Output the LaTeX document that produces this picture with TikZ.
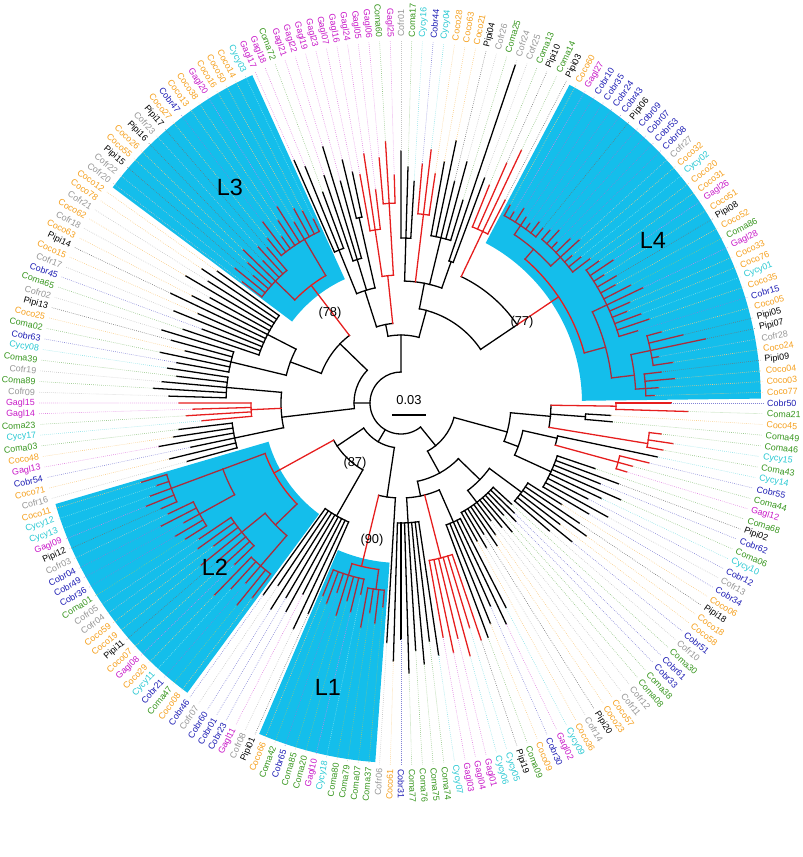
\documentclass[tikz,border=0pt]{standalone}
\usepackage{fontspec}
\setmainfont{Liberation Sans}
\definecolor{co}{RGB}{245,160,30}
\definecolor{ga}{RGB}{200,25,200}
\definecolor{cm}{RGB}{55,150,30}
\definecolor{cy}{RGB}{40,200,210}
\definecolor{cb}{RGB}{30,30,180}
\definecolor{cf}{RGB}{150,150,150}
\definecolor{pp}{RGB}{0,0,0}
\definecolor{brred}{RGB}{230,30,30}
\definecolor{wred}{RGB}{170,45,60}
\definecolor{lin}{RGB}{20,190,235}
\newcommand\lblfont{\fontsize{7.6}{9}\selectfont}
% angle of leaf position p (clockwise from the top)
\newcommand\pang[1]{(90-(#1-1)*1.698113)}
% clade: style, stem position, arc from, arc to, stem start, node radius
\newcommand\cl[6]{%
  \draw[#1] ({\pang{#2}}:#5) -- ({\pang{#2}}:#6);
  \draw[#1] ({\pang{#3}}:#6) arc[start angle={\pang{#3}}, end angle={\pang{#4}}, radius=#6];}
% leaf branch: style, position, start, tip
\newcommand\lf[4]{%
  \draw[#1] ({\pang{#2}}:#3) -- ({\pang{#2}}:#4);
  \pgfmathtruncatemacro\lfk{mod(#2-1,212)+1}%
  \expandafter\xdef\csname tr\lfk\endcsname{#4}}
% clade whose children are leaves a..b
\newcommand\fan[7]{%
  \cl{#1}{#2}{#3}{#4}{#5}{#6}
  \foreach \t [count=\j from #3] in {#7} {\lf{#1}{\j}{#6}{\t}}}
\newcommand\wedgefill[4]{%
  \fill[lin] (#1:#3) arc[start angle=#1, end angle=#2, radius=#3]
    -- (#2:#4) arc[start angle=#2, end angle=#1, radius=#4] -- cycle;}

\begin{document}
\begin{tikzpicture}[scale=0.03,
    bk/.style={line width=1.1pt, black, line cap=rect},
    rb/.style={line width=1.1pt, brred, line cap=rect},
    wb/.style={line width=1.1pt, wred, line cap=rect},
    dotline/.style={line width=0.5pt, dash pattern=on 0.6pt off 1.1pt},
    lbl/.style={font=\lblfont, inner sep=0pt},
    boot/.style={font=\fontsize{11}{13}\selectfont, inner sep=0pt},
    lname/.style={font=\fontsize{20}{24}\selectfont, inner sep=0pt}
]
\useasboundingbox (-401,-454) rectangle (402,403);

% highlighted lineages
\wedgefill{0.7}{62.1}{181}{360}
\wedgefill{114.4}{143.2}{136}{360}
\wedgefill{196.3}{233.6}{138}{360}
\wedgefill{246.8}{265.9}{160}{360}

% root
\draw[bk] ({\pang{84}}:31) arc[start angle={\pang{84}}, end angle={\pang{213}}, radius=31];

% top clade
\cl{bk}{213}{206.5}{222}{31}{68}
\cl{bk}{206.5}{202.5}{209.5}{68}{80}
\cl{bk}{202.5}{200}{205.5}{80}{118}
\fan{bk}{200}{199}{201}{118}{165}{265,255,225}
\fan{bk}{203}{202}{204}{118}{150}{240,268,230}
\fan{bk}{205.5}{205}{206}{118}{190}{250,236}
\cl{rb}{209.5}{208}{211}{80}{128}
\fan{rb}{208}{207}{209}{128}{175}{232,252,215}
\fan{rb}{211}{210}{212}{128}{200}{246,262,228}
\cl{bk}{222}{219.5}{246}{68}{96}
\cl{bk}{219.5}{214}{224.5}{96}{122}
\fan{bk}{214}{213}{215}{122}{165}{252,236,222}
\fan{rb}{217}{216}{218}{122}{190}{240,255,232}
\fan{bk}{221}{219}{223}{122}{170}{245,268,228,250,212}
\fan{bk}{224.5}{224}{225}{122}{150}{357,240}
\cl{bk}{246}{228}{246}{96}{140}
\fan{rb}{228}{226}{229}{140}{190}{235,262,280,228}
% L4
\cl{rb}{246}{237}{257}{140}{190}
\cl{wb}{237}{233}{241}{190}{203}
\fan{wb}{233}{230}{236}{203}{214}{226,222,230,224,221,228,225}
\fan{wb}{241}{237}{244}{203}{216}{228,234,224,236,242,226,232,238}
\cl{wb}{257}{251}{262}{190}{212}
\fan{wb}{251}{245}{256}{212}{228}{244,256,240,250,245,258,268,250,244,256,262,248}
\cl{wb}{262}{259}{264}{212}{235}
\fan{wb}{259}{257}{261}{235}{255}{270,290,311,262,275}
\fan{wb}{264}{262}{265}{235}{245}{262,275,258,254}

% right clade
\cl{bk}{84}{63}{90}{31}{55}
\cl{bk}{63}{57}{66}{55}{110}
\cl{bk}{57}{54.5}{59.5}{110}{150}
\fan{rb}{54.5}{54}{55}{150}{215}{270,287}
\fan{bk}{56.5}{56}{57}{150}{185}{210,212}
\fan{rb}{59.5}{58}{60}{150}{250}{262,275,266}
\cl{bk}{66}{61.5}{68.5}{110}{125}
\cl{bk}{61.5}{61}{63}{125}{160}
\lf{bk}{61}{160}{262}
\fan{rb}{63}{62}{64}{160}{225}{255,240,236}
\fan{bk}{68.5}{65}{72}{125}{165}{205,232,215,240,222,210,236,218}
\cl{bk}{90}{80}{100}{55}{80}
\cl{bk}{80}{75.5}{85}{80}{110}
\fan{bk}{75.5}{73}{78}{110}{150}{190,215,228,200,220,196}
\fan{bk}{85}{79}{90}{110}{125}{150,158,165,152,170,160,148,162,172,155,168,158}
\cl{bk}{100}{93}{105}{80}{95}
\fan{bk}{93}{91}{95}{95}{130}{230,245,222,238,250}
\fan{rb}{98.5}{96}{101}{95}{160}{250,235,262,242,255,238}
\fan{bk}{105}{102}{108}{95}{120}{255,240,262,248,270,236,258}

% bottom clade
\cl{bk}{125}{112}{140}{31}{45}
\cl{bk}{112}{109}{115}{45}{95}
\lf{bk}{109}{95}{240}
\cl{rb}{115}{111.5}{117}{95}{168}
\fan{wb}{111.5}{110}{113}{168}{188}{205,222,212,228}
\fan{wb}{117}{114}{120}{168}{180}{196,215,205,222,200,214,208}
\cl{bk}{140}{124.5}{143}{45}{77}
\fan{bk}{124.5}{121}{128}{77}{130}{230,250,215,238,226,244,220,236}
% L2
\cl{rb}{143}{134}{148}{77}{145}
\cl{wb}{134}{131}{137}{145}{175}
\fan{wb}{131}{129}{133}{175}{215}{245,260,238,252,268}
\fan{wb}{137}{134}{140}{175}{205}{232,248,240,258,236,250,244}
\cl{wb}{148}{143}{148}{145}{190}
\fan{wb}{143}{141}{145}{190}{230}{255,262,248,270,258}
\fan{wb}{148}{146}{150}{190}{245}{262,275,268,258,272}

% left clade
\cl{bk}{160}{156}{186}{31}{47}
\cl{bk}{156}{153}{163}{47}{120}
\fan{bk}{153}{151}{156}{120}{170}{222,238,215,246,230,224}
\fan{rb}{158.5}{157}{160}{120}{150}{200,215,208,222}
\fan{bk}{163}{161}{165}{120}{175}{232,248,240,226,236}
\cl{bk}{186}{172}{191}{47}{85}
\cl{bk}{172}{168}{176}{85}{118}
\fan{bk}{168}{166}{170}{118}{175}{228,246,222,238,250}
\fan{bk}{176}{171}{181}{118}{150}{230,212,245,222,255,235,218,250,228,240,226}
% L3
\cl{rb}{191}{186}{195}{85}{148}
\fan{wb}{186}{182}{189}{148}{175}{200,214,195,208,220,198,212,205}
\fan{wb}{195}{190}{198}{148}{190}{212,228,205,220,232,210,222,216,204}

% leaf names
\foreach \nm/\lc [count=\i] in {Cofr01/cf, Coma17/cm, Cycy16/cy, Cobr44/cb, Cycy04/cy, Coco28/co, Coco63/co, Coco21/co, Pipi04/pp, Cofr26/cf,
  Coma25/cm, Cofr24/cf, Cofr25/cf, Coma13/cm, Pipi10/pp, Coma14/cm, Pipi03/pp, Coco60/co, Gagl27/ga, Cobr10/cb,
  Cobr35/cb, Cobr24/cb, Cobr43/cb, Pipi06/pp, Cobr09/cb, Cobr07/cb, Cobr53/cb, Cobr08/cb, Cofr27/cf, Coco32/co,
  Cycy02/cy, Coco20/co, Coco31/co, Gagl26/ga, Coco51/co, Pipi08/pp, Coco52/co, Coma86/cm, Gagl28/ga, Coco33/co,
  Coco76/co, Cycy01/cy, Coco35/co, Cobr15/cb, Coco05/co, Pipi05/pp, Pipi07/pp, Cofr28/cf, Coco24/co, Pipi09/pp,
  Coco04/co, Coco03/co, Coco77/co, Cobr50/cb, Coma21/cm, Coco45/co, Coma49/cm, Coma46/cm, Cycy15/cy, Coma43/cm,
  Cycy14/cy, Cobr55/cb, Coma44/cm, Gagl12/ga, Coma68/cm, Pipi02/pp, Cobr62/cb, Coma06/cm, Cycy10/cy, Cobr12/cb,
  Cofr13/cf, Cobr34/cb, Coco06/co, Pipi18/pp, Coco18/co, Coco58/co, Cobr51/cb, Cofr10/cf, Coma30/cm, Cobr61/cb,
  Cobr33/cb, Coma38/cm, Coma08/cm, Cofr12/cf, Cofr11/cf, Coco57/co, Coco23/co, Pipi20/pp, Cofr14/cf, Coco36/co,
  Cycy09/cy, Gagl02/ga, Cobr30/cb, Coco09/co, Coma09/cm, Pipi19/pp, Cycy05/cy, Cycy06/cy, Gagl01/ga, Gagl04/ga,
  Gagl03/ga, Cycy07/cy, Coma74/cm, Coma75/cm, Coma76/cm, Coma77/cm, Cobr31/cb, Coco61/co, Cofr06/cf, Coma37/cm,
  Coma07/cm, Coma79/cm, Coma80/cm, Cycy18/cy, Gagl10/ga, Coma20/cm, Coma85/cm, Cobr65/cb, Coma42/cm, Coco66/co,
  Pipi01/pp, Cofr08/cf, Gagl11/ga, Cobr23/cb, Cobr01/cb, Cobr60/cb, Cofr07/cf, Cobr46/cb, Coco08/co, Coma47/cm,
  Cobr21/cb, Cycy11/cy, Coco29/co, Gagl08/ga, Coco07/co, Pipi11/pp, Coco19/co, Coco59/co, Cofr04/cf, Cofr05/cf,
  Coma01/cm, Cobr36/cb, Cobr49/cb, Cobr04/cb, Cofr03/cf, Pipi12/pp, Gagl09/ga, Cycy13/cy, Cycy12/cy, Coco11/co,
  Cofr16/cf, Coco71/co, Cobr54/cb, Gagl13/ga, Coco48/co, Coma03/cm, Cycy17/cy, Coma23/cm, Gagl14/ga, Gagl15/ga,
  Cofr09/cf, Coma89/cm, Cofr19/cf, Coma39/cm, Cycy08/cy, Cobr63/cb, Coma02/cm, Coco25/co, Pipi13/pp, Cofr02/cf,
  Coma65/cm, Cobr45/cb, Cofr17/cf, Coco15/co, Pipi14/pp, Coco63/co, Cofr18/cf, Coco62/co, Cofr21/cf, Coco78/co,
  Coco12/co, Cofr20/cf, Cofr22/cf, Pipi15/pp, Coco55/co, Coco26/co, Pipi16/pp, Cofr23/cf, Pipi17/pp, Coco27/co,
  Cobr47/cb, Coco13/co, Coco38/co, Gagl20/ga, Coco16/co, Coco50/co, Coco14/co, Cycy03/cy, Gagl17/ga, Gagl18/ga,
  Coma72/cm, Gagl21/ga, Gagl22/ga, Gagl19/ga, Gagl23/ga, Gagl07/ga, Gagl16/ga, Gagl24/ga, Gagl05/ga, Gagl06/ga,
  Coma60/cm, Gagl25/ga}{
  \pgfmathsetmacro\ang{90-(\i-1)*1.698113}
  \pgfmathtruncatemacro\side{cos(\ang)>-0.005 ? 1 : 0}
  \ifcsname tr\i\endcsname
    \edef\tr{\csname tr\i\endcsname}
    \draw[dotline, \lc!55] (\ang:\tr) -- (\ang:362);
  \fi
  \ifnum\side=1
    \node[lbl, text=\lc, anchor=west, rotate=\ang] (n\i) at (\ang:366) {\nm};
  \else
    \node[lbl, text=\lc, anchor=east, rotate=\ang+180] (n\i) at (\ang:366) {\nm};
  \fi
}

% lineage names, support values and scale
\node[lname] (l4) at (252,163) {L4};
\node[lname] (l3) at (-171,216) {L3};
\node[lname] (l2) at (-186,-164) {L2};
\node[lname] (l1) at (-73,-284) {L1};
\node[boot] (b78) at (-71,90) {(78)};
\node[boot] (b77) at (121,81) {(77)};
\node[boot] (b87) at (-46,-60) {(87)};
\node[boot] (b90) at (-29,-137) {(90)};
\node[boot] (scale) at (8,3) {0.03};
\draw[line width=2.2pt] (-9,-12) -- (25,-12);
\end{tikzpicture}
\end{document}
